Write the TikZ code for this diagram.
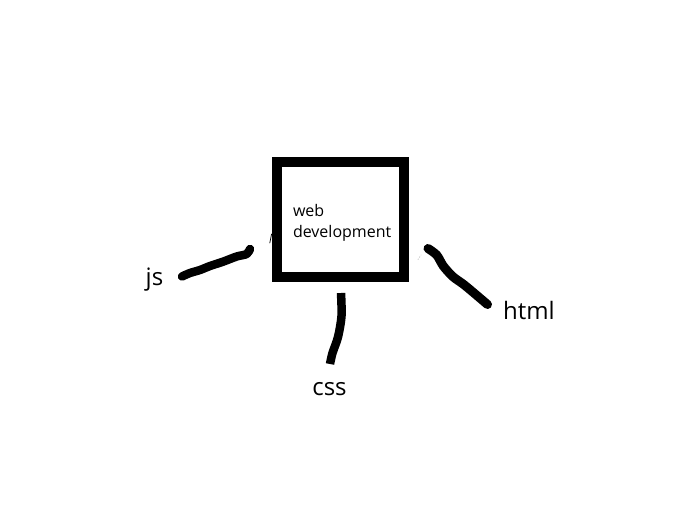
\documentclass[tikz,border=0pt]{standalone}
\usepackage{fontspec}
\setmainfont{Open Sans}
\begin{document}
\begin{tikzpicture}[x=1pt,y=-1pt,
  mainbox/.style={draw=black,line width=10pt,minimum width=127pt,minimum height=115pt,inner sep=0pt},
  boxtext/.style={inner sep=0pt,align=left,text width=98pt,font=\fontsize{16}{20.5}\selectfont},
  lbl/.style={inner sep=0pt,anchor=base,font=\fontsize{24}{28}\selectfont},
  stroke/.style={line width=8.5pt,line cap=round,line join=round},
  ghost/.style={line width=0.7pt,line cap=round}]
\useasboundingbox (0,0) rectangle (683,506);
\fill[white] (0,0) rectangle (683,506);
\node[mainbox] (box) at (340.5,219.5) {};
\node[boxtext] (title) at (342,223) {web\\development};
\node[lbl] (js) at (154.5,285.5) {js};
\node[lbl] (css) at (329.5,395) {css};
\node[lbl] (html) at (529,319) {html};
% connector end points
\coordinate (js1) at (182,276.5);
\coordinate (js2) at (250,249);
\coordinate (c1) at (341,293);
\coordinate (c2) at (330,364);
\coordinate (h1) at (428,248.5);
\coordinate (h2) at (487.5,304.5);
\draw[stroke] plot[smooth] coordinates {(js1) (190,273) (200,270) (210,266) (223,261.7) (236.7,256.5) (246.7,254) (js2)};
\draw[stroke,line cap=butt] plot[smooth] coordinates {(c1) (341.5,316) (338,337) (332.5,353) (c2)};
\draw[stroke,line width=9pt] plot[smooth] coordinates {(h1) (436.7,255) (443.3,266) (453,276.7) (465,285.5) (h2)};
% faint marks
\coordinate (g1) at (269.8,243);
\coordinate (g2) at (271.6,234);
\draw[ghost] (g1) -- (g2);
\coordinate (g3) at (418,259.5);
\coordinate (g4) at (421,255);
\draw[ghost,gray!60,dotted] (g3) -- (g4);
\end{tikzpicture}
\end{document}
